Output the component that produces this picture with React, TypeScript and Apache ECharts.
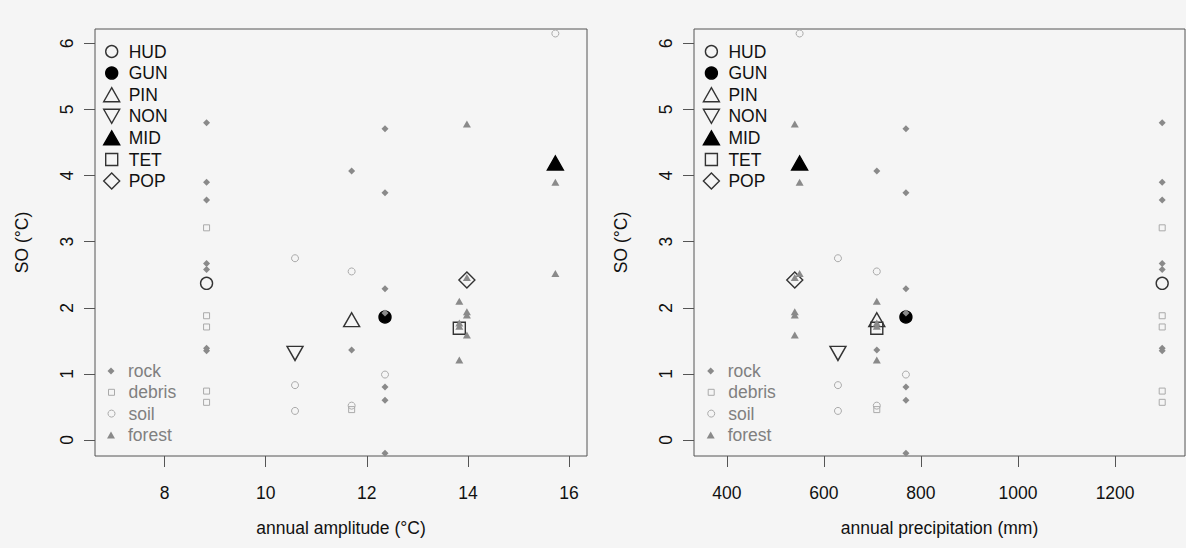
import React, { useEffect, useRef } from 'react';
import * as echarts from 'echarts';

// ---- data ----
const sites = ['HUD', 'GUN', 'PIN', 'NON', 'MID', 'TET', 'POP'];
const siteAmplitude = [8.83, 12.36, 11.7, 10.58, 15.73, 13.83, 13.98];
const sitePrecipitation = [1297, 769, 709, 629, 550, 709, 540];
const siteSO = [2.37, 1.86, 1.82, 1.31, 4.19, 1.69, 2.42];

const habitats = ['rock', 'debris', 'soil', 'forest'];

const rockHUD = [4.8, 3.9, 3.63, 2.67, 2.58, 1.39, 1.35];
const debrisHUD = [3.21, 1.88, 1.71, 0.74, 0.57];
const soilNON = [2.75, 0.83, 0.44];
const rockPIN = [4.07, 1.36];
const soilPIN = [2.55, 0.52];
const debrisPIN = [0.46];
const rockGUN = [4.71, 3.74, 2.29, 1.92, 0.8, 0.6, -0.2];
const soilGUN = [0.99];
const forestTET = [2.1, 1.77, 1.72, 1.21];
const forestPOP = [4.78, 2.46, 1.94, 1.89, 1.59];
const forestMID = [3.9, 2.52];
const soilMID = [6.15];

const rockSamples: [string, number[]][] = [['HUD', rockHUD], ['PIN', rockPIN], ['GUN', rockGUN]];
const debrisSamples: [string, number[]][] = [['HUD', debrisHUD], ['PIN', debrisPIN]];
const soilSamples: [string, number[]][] = [['NON', soilNON], ['PIN', soilPIN], ['GUN', soilGUN], ['MID', soilMID]];
const forestSamples: [string, number[]][] = [['TET', forestTET], ['POP', forestPOP], ['MID', forestMID]];
const habitatSamples = [rockSamples, debrisSamples, soilSamples, forestSamples];

const xTicksAmplitude = [8, 10, 12, 14, 16];
const xTicksPrecipitation = [400, 600, 800, 1000, 1200];
const yTicks = [0, 1, 2, 3, 4, 5, 6];

const xNames = ['annual amplitude (°C)', 'annual precipitation (mm)'];
const yName = 'SO (°C)';

// ---- styles ----
const FONT = "'Liberation Sans', Arial, Helvetica, sans-serif";
const FS = 17.5;
const DARK = '#333333';
const CLEAR = 'rgba(0,0,0,0)';
const INV_TRI = 'path://M0,0 L16,0 L8,14 Z';

const siteStyle: Record<string, any> = {
  HUD: { symbol: 'circle', size: [12, 12], fill: CLEAR, stroke: DARK },
  GUN: { symbol: 'circle', size: [12, 12], fill: '#000', stroke: '#000' },
  PIN: { symbol: 'triangle', size: [16, 14], fill: CLEAR, stroke: DARK },
  NON: { symbol: INV_TRI, size: [16, 14], fill: CLEAR, stroke: DARK },
  MID: { symbol: 'triangle', size: [16, 14], fill: '#000', stroke: '#000' },
  TET: { symbol: 'rect', size: [12, 12], fill: CLEAR, stroke: DARK },
  POP: { symbol: 'diamond', size: [16, 16], fill: CLEAR, stroke: DARK },
};

const habitatStyle: Record<string, any> = {
  rock: { symbol: 'diamond', size: [7, 7], fill: '#8a8a8a', stroke: '#8a8a8a', bw: 0 },
  debris: { symbol: 'rect', size: [6, 6], fill: CLEAR, stroke: '#aaaaaa', bw: 1 },
  soil: { symbol: 'circle', size: [7, 7], fill: CLEAR, stroke: '#aaaaaa', bw: 1 },
  forest: { symbol: 'triangle', size: [8, 7], fill: '#8a8a8a', stroke: '#8a8a8a', bw: 0 },
};

const GRID_LEFT = [95, 694];
const GRID_WIDTH = [492, 491];
const X_MIN = [6.623, 332.4];
const X_MAX = [16.356, 1344];
const SITE_LEGEND_Y0 = 51.5;
const SITE_LEGEND_STEP = 21.6;
const HAB_LEGEND_Y0 = 371;
const HAB_LEGEND_STEP = 21.3;
const LEGEND_ICON_X = [111, 710.7];
const LEGEND_TEXT_OFFSET = 17;

function buildOption() {
  const series: any[] = [];
  const legends: any[] = [];
  for (let p = 0; p < 2; p++) {
    const xs = p === 0 ? siteAmplitude : sitePrecipitation;
    sites.forEach((s, i) => {
      const st = siteStyle[s];
      series.push({
        type: 'scatter',
        name: s,
        xAxisIndex: p,
        yAxisIndex: p,
        data: [[xs[i], siteSO[i]]],
        symbol: st.symbol,
        symbolSize: st.size,
        itemStyle: { color: st.fill, borderColor: st.stroke, borderWidth: 1.4, opacity: 1 },
        z: 2,
        silent: true,
      });
    });
    habitats.forEach((h, hi) => {
      const st = habitatStyle[h];
      const data: number[][] = [];
      habitatSamples[hi].forEach(([site, vals]) => {
        const idx = sites.indexOf(site);
        vals.forEach((v) => data.push([xs[idx], v]));
      });
      series.push({
        type: 'scatter',
        name: h,
        xAxisIndex: p,
        yAxisIndex: p,
        data,
        symbol: st.symbol,
        symbolSize: st.size,
        itemStyle: { color: st.fill, borderColor: st.stroke, borderWidth: st.bw, opacity: 1 },
        z: 3,
        silent: true,
      });
    });

    // legends (one component per entry, so each icon keeps its own size)
    const makeLegend = (name: string, st: any, cy: number, color: string, bw: number) => {
      const w = st.size[0];
      const hgt = st.size[1];
      legends.push({
        show: true,
        orient: 'vertical',
        left: LEGEND_ICON_X[p] - w / 2,
        top: cy - 10,
        padding: 0,
        itemWidth: w,
        itemHeight: hgt,
        selectedMode: false,
        data: [
          {
            name,
            icon: st.symbol,
            itemStyle: { color: st.fill, borderColor: st.stroke, borderWidth: bw, opacity: 1 },
          },
        ],
        textStyle: {
          fontFamily: FONT,
          fontSize: FS,
          color,
          lineHeight: 20,
          padding: [0, 0, 0, LEGEND_TEXT_OFFSET - 5 - w / 2],
        },
      });
    };
    sites.forEach((s, i) => makeLegend(s, siteStyle[s], SITE_LEGEND_Y0 + i * SITE_LEGEND_STEP, '#111', 1.4));
    habitats.forEach((h, i) =>
      makeLegend(h, habitatStyle[h], HAB_LEGEND_Y0 + i * HAB_LEGEND_STEP, '#808080', habitatStyle[h].bw)
    );
  }

  const axisText = { fontFamily: FONT, fontSize: FS, color: '#111' };

  return {
    animation: false,
    backgroundColor: '#f5f5f5',
    grid: [0, 1].map((p) => ({
      left: GRID_LEFT[p],
      top: 29,
      width: GRID_WIDTH[p],
      height: 427,
      show: true,
      borderColor: '#555',
      borderWidth: 1,
      backgroundColor: 'transparent',
    })),
    xAxis: [0, 1].map((p) => ({
      type: 'value',
      gridIndex: p,
      min: X_MIN[p],
      max: X_MAX[p],
      name: xNames[p],
      nameLocation: 'middle',
      nameGap: 63,
      nameTextStyle: axisText,
      axisLine: { show: false, onZero: false },
      axisTick: {
        show: true,
        length: 11,
        lineStyle: { color: '#555', width: 1 },
        customValues: p === 0 ? xTicksAmplitude : xTicksPrecipitation,
      },
      axisLabel: {
        ...axisText,
        margin: 28,
        customValues: p === 0 ? xTicksAmplitude : xTicksPrecipitation,
        formatter: (v: number) => String(v),
      },
      splitLine: { show: false },
    })),
    yAxis: [0, 1].map((p) => ({
      type: 'value',
      gridIndex: p,
      min: -0.242,
      max: 6.218,
      name: yName,
      nameLocation: 'middle',
      nameGap: 64,
      nameTextStyle: axisText,
      axisLine: { show: false, onZero: false },
      axisTick: {
        show: true,
        length: 11,
        lineStyle: { color: '#555', width: 1 },
        customValues: yTicks,
      },
      axisLabel: {
        ...axisText,
        rotate: 90,
        margin: 19,
        customValues: yTicks,
        formatter: (v: number) => String(v),
      },
      splitLine: { show: false },
    })),
    legend: legends,
    series,
  };
}

export default function App() {
  const ref = useRef<HTMLDivElement>(null);
  useEffect(() => {
    if (!ref.current) return;
    const chart = echarts.init(ref.current, undefined, { renderer: 'svg' });
    chart.setOption(buildOption() as any);
    return () => chart.dispose();
  }, []);
  return (
    <div
      ref={ref}
      style={{ position: 'absolute', left: 0, top: 0, width: 1186, height: 548 }}
    />
  );
}
